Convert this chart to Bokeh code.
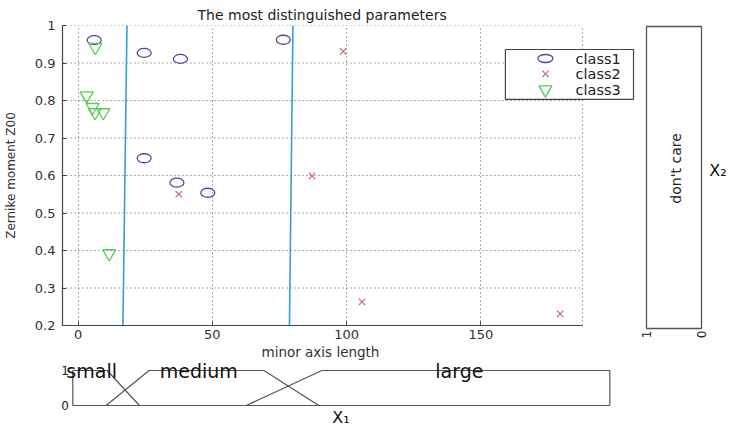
import numpy as np
from bokeh.plotting import figure
from bokeh.layouts import column, row
from bokeh.models import Range1d, FixedTicker, Title
from bokeh.core.properties import value
from bokeh.embed import file_html
from bokeh.resources import INLINE

FONT = "DejaVu Sans"
TEXT_COLOR = "#222222"
LINE_COLOR = "#555555"
C1, C2, C3 = "#4a4aa6", "#cc6666", "#55cc55"

# ---- scatter data: minor axis length vs Zernike moment Z00 ----
class1_x = [6.0, 24.6, 38.1, 76.4, 24.6, 36.8, 48.3]
class1_y = [0.961, 0.927, 0.911, 0.962, 0.646, 0.581, 0.554]

class2_x = [98.7, 37.5, 87.1, 105.7, 179.5]
class2_y = [0.931, 0.550, 0.599, 0.263, 0.231]

class3_x = [6.4, 3.2, 5.4, 6.3, 9.4, 11.6]
class3_y = [0.942, 0.813, 0.782, 0.768, 0.768, 0.392]

class_names = ["class1", "class2", "class3"]

# class boundaries on minor axis length (top and bottom of the axes)
boundary_top = [18.2, 80.0]
boundary_bottom = [16.7, 78.7]

x_ticks = [0, 50, 100, 150]
x_tick_labels = ["0", "50", "100", "150"]
y_ticks = [0.2, 0.3, 0.4, 0.5, 0.6, 0.7, 0.8, 0.9, 1.0]
y_tick_labels = ["0.2", "0.3", "0.4", "0.5", "0.6", "0.7", "0.8", "0.9", "1"]

# axes box limits; the view extends further right to leave room for the legend
x_min, x_max = -5.8, 187.8
y_min, y_max = 0.2, 1.0
x_view_max = 209.4

# legend box (data units of the scatter view) and its rows
legend_left, legend_right = 159.1, 206.8
legend_bottom, legend_top = 0.803, 0.936
legend_row_y = [0.912, 0.871, 0.829]
legend_mark_x = 174.0
legend_text_x = 185.2

# ---- membership functions of x1 (normalised 0..100) ----
small_x = [0, 0, 6.4, 12.4]
small_y = [0, 1, 1, 0]
medium_x = [6.2, 14.2, 35.6, 45.8]
medium_y = [0, 1, 1, 0]
large_x = [32.3, 46.4, 100, 100]
large_y = [0, 1, 1, 0]
baseline_x = [0, 100]
baseline_y = [0, 0]
term_names = ["small", "medium", "large"]
term_label_x = [-1.2, 16.2, 67.5]

# ---- main scatter figure ----
p = figure(width=640, height=361,
           x_range=Range1d(x_min, x_view_max), y_range=Range1d(y_min, y_max),
           title="The most distinguished parameters",
           output_backend="svg", toolbar_location=None,
           min_border_left=62, min_border_right=0,
           min_border_top=25, min_border_bottom=36)
p.frame_align = False
p.background_fill_color = "white"
p.border_fill_color = "white"
p.outline_line_color = None

p.title.align = "left"
p.title.offset = 135
p.title.text_font = FONT
p.title.text_font_size = "14px"
p.title.text_font_style = "normal"
p.title.text_color = TEXT_COLOR
p.title.standoff = 5

p.xaxis.ticker = FixedTicker(ticks=x_ticks)
p.yaxis.ticker = FixedTicker(ticks=y_ticks)
p.xaxis.major_label_overrides = dict(zip(x_ticks, x_tick_labels))
p.yaxis.major_label_overrides = dict(zip(y_ticks, y_tick_labels))
p.xaxis.bounds = (x_min, x_max)
p.yaxis.axis_label = "Zernike moment Z00"

for ax in (p.xaxis[0], p.yaxis[0]):
    ax.axis_line_color = "#444444"
    ax.axis_line_width = 1.2
    ax.major_tick_line_color = "#444444"
    ax.major_tick_in = 4
    ax.major_tick_out = 0
    ax.minor_tick_line_color = None
    ax.major_label_text_font = FONT
    ax.major_label_text_font_size = "13px"
    ax.major_label_text_color = "#333333"
    ax.axis_label_text_font = FONT
    ax.axis_label_text_font_style = "normal"
    ax.axis_label_text_color = "#333333"

p.xaxis.major_label_standoff = 4
p.yaxis.major_label_standoff = 7
p.yaxis.axis_label_standoff = 14
p.yaxis.axis_label_text_font_size = "12px"

# x label sits under the axes box (centred on the box, not on the wider view)
p.add_layout(Title(text="minor axis length", align="left", offset=199, standoff=0,
                   text_font=FONT, text_font_size="13.5px", text_font_style="normal",
                   text_color="#333333"), "below")

# dotted grid, limited to the axes box
p.xgrid.grid_line_color = LINE_COLOR
p.xgrid.grid_line_dash = "1 3"
p.ygrid.visible = False
p.segment(x0=[x_min] * len(y_ticks), y0=y_ticks, x1=[x_max] * len(y_ticks), y1=y_ticks,
          line_color=LINE_COLOR, line_dash="1 3", line_width=1)
p.segment(x0=[x_max], y0=[y_min], x1=[x_max], y1=[y_max],
          line_color=LINE_COLOR, line_dash="1 3", line_width=1)

# boundaries between small / medium / large
p.segment(x0=boundary_top, y0=[y_max] * 2, x1=boundary_bottom, y1=[y_min] * 2,
          line_color="#3aa0d0", line_width=1.6)

p.ellipse(x=class1_x, y=class1_y, width=14, height=9,
          width_units="screen", height_units="screen",
          fill_color=None, line_color=C1, line_width=1.3)
p.scatter(x=class2_x, y=class2_y, marker="x", size=9,
          line_color=C2, line_width=1.2)
p.scatter(x=class3_x, y=class3_y, marker="inverted_triangle", size=13,
          fill_color=None, line_color=C3, line_width=1.3)

# legend
p.quad(left=[legend_left], right=[legend_right], bottom=[legend_bottom], top=[legend_top],
       fill_color="white", line_color="#444444", line_width=1.2)
p.ellipse(x=[legend_mark_x], y=[legend_row_y[0]], width=15, height=8,
          width_units="screen", height_units="screen",
          fill_color=None, line_color=C1, line_width=1.3)
p.scatter(x=[legend_mark_x], y=[legend_row_y[1]], marker="x", size=9,
          line_color=C2, line_width=1.2)
p.scatter(x=[legend_mark_x], y=[legend_row_y[2]], marker="inverted_triangle", size=13,
          fill_color=None, line_color=C3, line_width=1.3)
p.text(x=[legend_text_x] * 3, y=legend_row_y, text=class_names,
       text_align="left", text_baseline="middle",
       text_font=value(FONT), text_font_size="14.5px", text_color=TEXT_COLOR)

# ---- x2 membership panel (rotated, "don't care") ----
pr = figure(width=96, height=361,
            x_range=Range1d(1 + 6 / 55, -35 / 55),
            y_range=Range1d(-33 / 302, 1 + 26 / 302),
            x_axis_type=None, y_axis_type=None,
            output_backend="svg", toolbar_location=None,
            min_border_left=0, min_border_right=0,
            min_border_top=0, min_border_bottom=0)
pr.frame_align = False
pr.grid.visible = False
pr.outline_line_color = None
pr.quad(left=[1], right=[0], bottom=[0], top=[1], fill_color=None,
        line_color=LINE_COLOR, line_width=1.3)
pr.text(x=[0.47], y=[0.53], text=["don't care"], angle=np.pi / 2,
        text_align="center", text_baseline="middle",
        text_font=value(FONT), text_font_size="14px", text_color=TEXT_COLOR)
pr.text(x=[1, 0], y=[0, 0], text=["1", "0"], angle=np.pi / 2, y_offset=2,
        text_align="right", text_baseline="middle",
        text_font=value(FONT), text_font_size="12px", text_color=TEXT_COLOR)
pr.text(x=[-0.14], y=[0.523], text=["X₂"],
        text_align="left", text_baseline="middle",
        text_font=value(FONT), text_font_size="16px", text_color="#111111")

# ---- x1 membership panel ----
pb = figure(width=736, height=71,
            x_range=Range1d(-72.3 / 5.37, (736 - 72.3) / 5.37),
            y_range=Range1d(-27 / 35, 1 + 9 / 35),
            x_axis_type=None, y_axis_type=None,
            output_backend="svg", toolbar_location=None,
            min_border_left=0, min_border_right=0,
            min_border_top=0, min_border_bottom=0)
pb.frame_align = False
pb.grid.visible = False
pb.outline_line_color = None
pb.multi_line(xs=[small_x, medium_x, large_x, baseline_x],
              ys=[small_y, medium_y, large_y, baseline_y],
              line_color=LINE_COLOR, line_width=1.2)
pb.text(x=term_label_x, y=[1, 1, 1], text=term_names,
        text_align="left", text_baseline="alphabetic",
        text_font=value(FONT), text_font_size="19px", text_color="#111111")
pb.text(x=[0, 0], y=[1, 0], text=["1", "0"], x_offset=-4,
        text_align="right", text_baseline="middle",
        text_font=value(FONT), text_font_size="12px", text_color=TEXT_COLOR)
pb.text(x=[48.3], y=[-0.34], text=["X₁"],
        text_align="left", text_baseline="middle",
        text_font=value(FONT), text_font_size="16px", text_color="#111111")

layout = column(row(p, pr, spacing=0), pb, spacing=0)
open("out.html", "w").write(file_html(layout, INLINE))
